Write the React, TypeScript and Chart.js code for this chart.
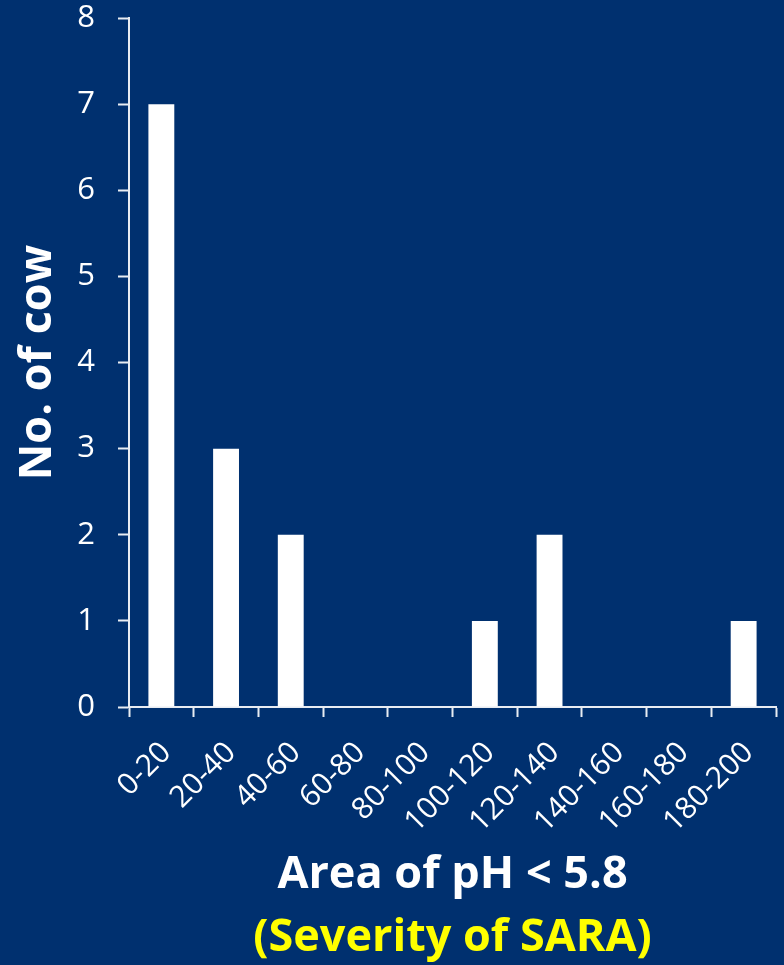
import React, { useEffect, useRef } from "react";
import { Chart, registerables } from "chart.js";

Chart.register(...registerables);

// pH-area bins (width 20) and number of cows falling in each bin
const areaBins: string[] = [
  "0-20",
  "20-40",
  "40-60",
  "60-80",
  "80-100",
  "100-120",
  "120-140",
  "140-160",
  "160-180",
  "180-200",
];
const cowCounts: number[] = [7, 3, 2, 0, 0, 1, 2, 0, 0, 1];
const yTicks: number[] = [0, 1, 2, 3, 4, 5, 6, 7, 8];

const xTitle = "Area of pH < 5.8";
const xSubtitle = "(Severity of SARA)";
const yTitle = "No. of cow";

const BG = "#00306F";
const FONT = "'Open Sans', 'DejaVu Sans', sans-serif";

export default function App() {
  const canvasRef = useRef<HTMLCanvasElement | null>(null);

  useEffect(() => {
    document.body.style.margin = "0";
    const canvas = canvasRef.current;
    if (!canvas) return;

    const chart = new Chart(canvas, {
      type: "bar",
      data: {
        labels: areaBins,
        datasets: [
          {
            data: cowCounts,
            backgroundColor: "#FFFFFF",
            borderWidth: 0,
            barPercentage: 0.4,
            categoryPercentage: 1.0,
          },
        ],
      },
      options: {
        responsive: false,
        animation: false,
        layout: { padding: { top: 0, right: 0, left: 0, bottom: 0 } },
        plugins: {
          legend: { display: false },
          tooltip: { enabled: false },
          title: {
            display: true,
            text: xSubtitle,
            position: "bottom",
            fullSize: false,
            color: "#FFFF00",
            font: { family: FONT, size: 45, weight: "bold", lineHeight: 1.2 },
            padding: { top: 4, bottom: 0 },
          },
        },
        scales: {
          x: {
            offset: true,
            grid: {
              offset: true,
              drawOnChartArea: false,
              drawTicks: true,
              tickLength: 10,
              tickWidth: 2,
              tickColor: "#E8ECF2",
            },
            border: { display: true, color: "#E8ECF2", width: 2 },
            ticks: {
              color: "#FFFFFF",
              font: { family: FONT, size: 30 },
              minRotation: 45,
              maxRotation: 45,
              padding: 18,
              labelOffset: 5,
              autoSkip: false,
            },
            title: {
              display: true,
              text: xTitle,
              color: "#FFFFFF",
              font: { family: FONT, size: 45, weight: "bold", lineHeight: 1.2 },
              padding: { top: 0, bottom: 5 },
            },
            afterFit: (scale: any) => {
              scale.height = 200;
              scale.paddingLeft = 0;
              // small gap between the axis end and the right edge
              scale.paddingRight = 8;
            },
          },
          y: {
            min: 0,
            max: 8,
            afterBuildTicks: (scale: any) => {
              scale.ticks = yTicks.map((v) => ({ value: v }));
            },
            grid: {
              drawOnChartArea: false,
              drawTicks: true,
              tickLength: 11,
              tickWidth: 2,
              tickColor: "#E8ECF2",
            },
            border: { display: true, color: "#E8ECF2", width: 2 },
            ticks: {
              color: "#FFFFFF",
              font: { family: FONT, size: 31 },
              padding: 23,
            },
            title: {
              display: true,
              text: yTitle,
              color: "#FFFFFF",
              font: { family: FONT, size: 45, weight: "bold", lineHeight: 1.2 },
              padding: { top: 11, bottom: 0 },
            },
            afterFit: (scale: any) => {
              scale.width = 129;
              // keep only room for half of the top label above the axis
              scale.paddingTop = 18;
            },
          },
        },
      },
    });

    return () => {
      chart.destroy();
    };
  }, []);

  return (
    <div
      style={{
        position: "absolute",
        left: 0,
        top: 0,
        width: 784,
        height: 965,
        background: BG,
        overflow: "hidden",
      }}
    >
      <canvas ref={canvasRef} width={784} height={965} style={{ display: "block" }} />
    </div>
  );
}
